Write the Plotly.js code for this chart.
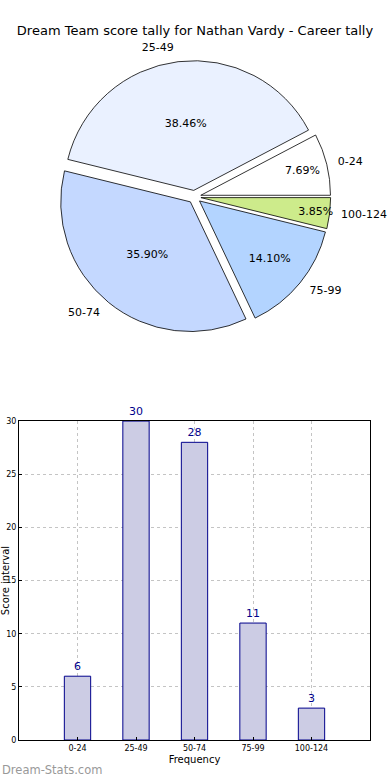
<!DOCTYPE html>
<html><head><meta charset="utf-8">
<script src="https://cdn.plot.ly/plotly-3.0.1.min.js"></script>
<style>html,body{margin:0;padding:0;background:#fff}#c{width:390px;height:780px}</style>
</head><body><div id="c"></div>
<script>
const categories = ['0-24','25-49','50-74','75-99','100-124'];
const counts = [6, 30, 28, 11, 3];
const sliceColors = ['#ffffff','#eaf1ff','#c4d8ff','#b3d4ff','#cdeb8b'];
const yTicks = [0,5,10,15,20,25,30];

const F = 'DejaVu Sans, sans-serif';
const pieBase = {
  type:'pie', labels:categories, values:counts, sort:false,
  direction:'counterclockwise', rotation:62.3,
  pull:[0.05,0.05,0.05,0.05,0.05], hoverinfo:'skip', showlegend:false
};
const data = [
  Object.assign({}, pieBase, {
    domain:{x:[0,1], y:[0.55,0.918]},
    marker:{colors:sliceColors, line:{color:'#000', width:0.8}},
    texttemplate:'%{percent:.2%}', textposition:'inside', insidetextorientation:'horizontal',
    textfont:{family:F, size:11, color:'#000'}
  }),
  Object.assign({}, pieBase, {
    domain:{x:[0,1], y:[0.539,0.929]},
    marker:{colors:categories.map(()=> 'rgba(0,0,0,0)'), line:{width:0}},
    texttemplate:'%{label}', textposition:'outside',
    textfont:{family:F, size:11, color:'#000'}
  }),
  {
    type:'bar', x:categories, y:counts, xaxis:'x', yaxis:'y', width:0.45,
    marker:{color:'#ccccE4', line:{color:'#00008b', width:1}},
    text:counts.map(String), textposition:'outside', cliponaxis:false,
    textfont:{family:F, size:11, color:'#00008b'}, showlegend:false, hoverinfo:'skip'
  }
];
const layout = {
  width:390, height:780, paper_bgcolor:'#fff', plot_bgcolor:'#fff',
  margin:{l:19, r:20, t:0, b:40},
  font:{family:F},
  uniformtext:{mode:'show', minsize:11},
  title:{text:'Dream Team score tally for Nathan Vardy - Career tally', x:0.5, xref:'container',
    y:1-30/780, yref:'container', yanchor:'middle', font:{family:F, size:13, color:'#000'}},
  xaxis:{type:'category', range:[-1,5], domain:[0,1], anchor:'y',
    showgrid:true, gridcolor:'#c4c4c4', griddash:'dot', gridwidth:1,
    ticks:'inside', ticklen:3, tickcolor:'#000', showline:true, linecolor:'#000', mirror:true,
    tickfont:{family:F, size:8, color:'#000'},
    title:{text:'Frequency', font:{family:F, size:10, color:'#000'}, standoff:4}},
  yaxis:{range:[0,30], domain:[0,0.431], anchor:'x', tickvals:yTicks,
    showgrid:true, gridcolor:'#c4c4c4', griddash:'dot', gridwidth:1, zeroline:false,
    ticks:'inside', ticklen:3, tickcolor:'#000', showline:true, linecolor:'#000', mirror:true,
    tickfont:{family:F, size:8, color:'#000'},
    title:{text:'Score interval', font:{family:F, size:10, color:'#000'}, standoff:10}},
  annotations:[{text:'Dream-Stats.com', xref:'paper', yref:'paper', x:-19/351, y:-30/740,
    xanchor:'left', yanchor:'middle', showarrow:false, font:{family:F, size:11.5, color:'#999'}}]
};
Plotly.newPlot('c', data, layout, {displayModeBar:false, staticPlot:true});
</script></body></html>
